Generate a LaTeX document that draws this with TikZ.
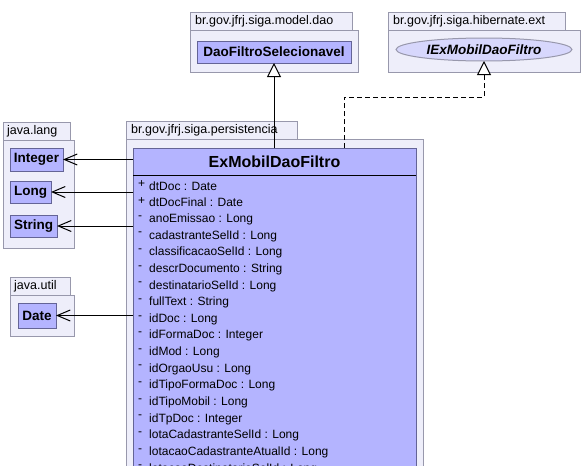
\documentclass[tikz,border=0pt]{standalone}
\usepackage{fontspec}
\setmainfont{Liberation Sans}
\usetikzlibrary{arrows.meta,positioning,calc,shapes.geometric}
\definecolor{pkgfill}{RGB}{238,238,250}
\definecolor{pkgdraw}{RGB}{152,152,172}
\definecolor{clsfill}{RGB}{180,180,255}
\definecolor{clsdraw}{RGB}{100,100,150}
\tikzset{
	pkg tab/.style={draw=pkgdraw,fill=pkgfill,line width=1pt,anchor=north west,inner sep=0pt,outer sep=0pt,minimum height=18pt},
	pkg body/.style={draw=pkgdraw,fill=pkgfill,line width=1pt,anchor=north west,inner sep=0pt,outer sep=0pt},
	pkg name/.style={inner sep=0pt,font=\fontsize{12.5}{12.5}\selectfont},
	cls box/.style={draw=clsdraw,fill=clsfill,line width=1pt,anchor=north west,inner sep=0pt,outer sep=0pt,font=\bfseries\fontsize{13.5}{13.5}\selectfont},
	attr/.style={anchor=west,inner sep=0pt,font=\fontsize{12}{12}\selectfont},
	dep/.style={line width=1pt,-{Straight Barb[length=13pt,width=11pt,line width=1pt]}},
	gen/.style={line width=1pt,-{Triangle[length=14pt,width=14pt,fill=white,line width=1pt]}},
	real/.style={gen,dash pattern=on 5pt off 3pt}
}

\begin{document}
\begin{tikzpicture}[x=1pt,y=-1pt]
  \useasboundingbox[fill=white] (0,0) rectangle (582,466);
  \clip (0,0) rectangle (582,466);
  % packages
  \node [pkg tab, minimum width=67pt] (langTab) at (3,122) {};
  \node [pkg body, minimum width=71pt, minimum height=108pt] (langBody) at (langTab.south west) {};
  \node [pkg name, right=4 of langTab.west] {java.lang};
  \node [pkg tab, minimum width=60pt] (utilTab) at (10,277) {};
  \node [pkg body, minimum width=64pt, minimum height=41pt] (utilBody) at (utilTab.south west) {};
  \node [pkg name, right=4 of utilTab.west] {java.util};
  \node [pkg tab, minimum width=162pt] (daoTab) at (190,12) {};
  \node [pkg body, minimum width=168pt, minimum height=42pt] (daoBody) at (daoTab.south west) {};
  \node [pkg name, right=5 of daoTab.west] {br.gov.jfrj.siga.model.dao};
  \node [pkg tab, minimum width=177pt] (extTab) at (388,12) {};
  \node [pkg body, minimum width=192pt, minimum height=42pt] (extBody) at (extTab.south west) {};
  \node [pkg name, right=5 of extTab.west] {br.gov.jfrj.siga.hibernate.ext};
  \node [pkg tab, minimum width=171pt] (persTab) at (126,121) {};
  \node [pkg body, minimum width=297pt, minimum height=360pt] (persBody) at (persTab.south west) {};
  \node [pkg name, right=5 of persTab.west] {br.gov.jfrj.siga.persistencia};
  % classes
  \node [cls box, minimum width=53pt, minimum height=23pt] (Integer) at (10,148) {Integer};
  \node [cls box, minimum width=41pt, minimum height=22pt] (Long) at (10,181) {Long};
  \node [cls box, minimum width=47pt, minimum height=22pt] (String) at (10,215) {String};
  \node [cls box, minimum width=38pt, minimum height=25pt] (Date) at (18,303) {Date};
  \node [cls box, minimum width=154pt, minimum height=22pt] (Dao) at (197,41) {DaoFiltroSelecionavel};
  \node [cls box, ellipse, anchor=center, minimum width=176pt, minimum height=23pt, fill=pkgfill!60!clsfill, draw=pkgdraw, font=\bfseries\itshape\fontsize{13.5}{13.5}\selectfont] (IEx) at (484,49.5) {IExMobilDaoFiltro};
  \node [cls box, minimum width=283pt, minimum height=340pt] (main) at (133,148) {};
  \node [font=\bfseries\fontsize{16}{16}\selectfont] (title) at (274.5,161.5) {ExMobilDaoFiltro};
  \draw [line width=1pt] (main.west |- 0,175) -- (main.east |- 0,175);
  \foreach \vis/\attrtext [count=\i from 0] in {+/dtDoc : Date, +/dtDocFinal : Date, -/anoEmissao : Long,
      -/cadastranteSelId : Long, -/classificacaoSelId : Long, -/descrDocumento : String,
      -/destinatarioSelId : Long, -/fullText : String, -/idDoc : Long, -/idFormaDoc : Integer,
      -/idMod : Long, -/idOrgaoUsu : Long, -/idTipoFormaDoc : Long, -/idTipoMobil : Long,
      -/idTpDoc : Integer, -/lotaCadastranteSelId : Long, -/lotacaoCadastranteAtualId : Long,
      -/lotacaoDestinatarioSelId : Long} {
    \node [attr] (v\i) at (138,{184+16.65*\i}) {\vis};
    \node [attr] (a\i) at (149,{186+16.65*\i}) {\attrtext};
  }
  % connectors
  \draw [dep] (main.west |- Integer) -- (Integer);
  \draw [dep] (main.west |- Long) -- (Long);
  \draw [dep] (main.west |- String) -- (String);
  \draw [dep] (main.west |- Date) -- (Date);
  \draw [gen] (main.north -| Dao) -- (Dao);
  \draw [real] ([xshift=211pt]main.north west) -- ++(0,-51) -| (IEx.south);
\end{tikzpicture}
\end{document}
